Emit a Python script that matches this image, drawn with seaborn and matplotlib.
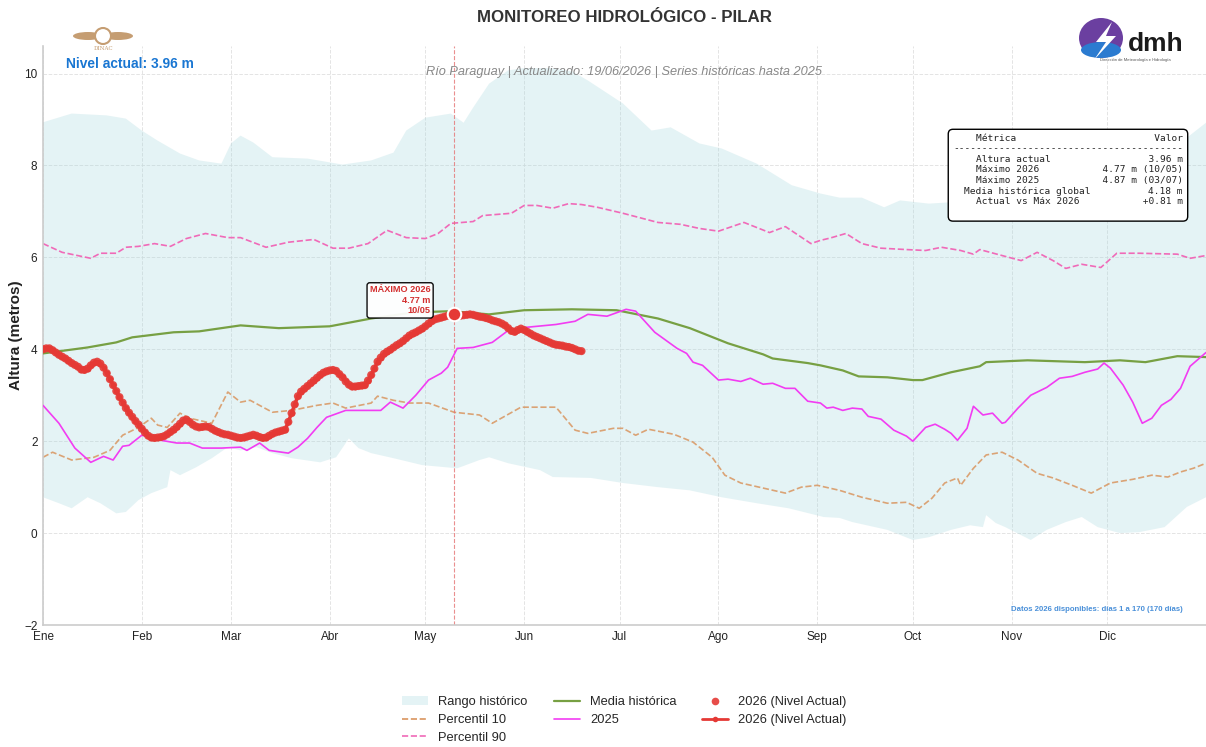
import numpy as np
import matplotlib
matplotlib.use("Agg")
import matplotlib.pyplot as plt
from matplotlib.patches import Patch, Ellipse, Polygon
from matplotlib.lines import Line2D
import seaborn as sns

# ---- datos (dia del año -> altura en metros) ----
month_days = [1, 32, 60, 91, 121, 152, 182, 213, 244, 274, 305, 335]
month_labels = ["Ene", "Feb", "Mar", "Abr", "May", "Jun", "Jul", "Ago", "Sep", "Oct", "Nov", "Dic"]

hist_max_day = [1, 10, 21, 27, 32, 37, 44, 50, 57, 60, 63, 67, 73, 84, 95, 104, 111, 115, 121, 129,
                133, 136, 141, 147, 152, 160, 167, 172, 183, 192, 198, 207, 214, 225, 236, 245, 251, 258,
                265, 270, 279, 286, 300, 315, 331, 346, 359, 366]
hist_max = [8.94, 9.13, 9.09, 9.02, 8.76, 8.54, 8.26, 8.11, 8.04, 8.48, 8.65, 8.50, 8.18, 8.15, 8.02, 8.11,
            8.28, 8.76, 9.04, 9.13, 8.93, 9.26, 9.78, 10.07, 10.12, 10.12, 10.05, 9.85, 9.35, 8.76, 8.83,
            8.48, 8.37, 8.04, 7.57, 7.39, 7.30, 7.30, 7.09, 7.24, 7.17, 7.20, 7.30, 7.50, 7.90, 8.30, 8.55, 8.93]

hist_min_day = [1, 6, 10, 15, 19, 24, 27, 31, 35, 40, 41, 44, 49, 54, 59, 63, 68, 73, 79, 88, 93, 97, 100,
                104, 111, 120, 131, 138, 141, 147, 157, 161, 173, 183, 194, 204, 214, 225, 235, 246, 251,
                255, 266, 274, 279, 286, 292, 296, 297, 300, 303, 311, 316, 322, 327, 332, 339, 345, 353, 360, 366]
hist_min = [0.78, 0.65, 0.54, 0.78, 0.65, 0.43, 0.46, 0.72, 0.87, 1.00, 1.37, 1.26, 1.43, 1.63, 1.87, 1.80,
            1.87, 1.74, 1.63, 1.54, 1.65, 2.06, 1.85, 1.74, 1.63, 1.48, 1.41, 1.59, 1.65, 1.52, 1.37, 1.22,
            1.20, 1.09, 1.00, 0.93, 0.78, 0.65, 0.54, 0.35, 0.33, 0.24, 0.07, -0.15, -0.09, 0.07, 0.17, 0.13,
            0.39, 0.22, 0.13, -0.15, 0.07, 0.24, 0.35, 0.13, 0.00, 0.02, 0.13, 0.57, 0.78]

p90_day = [1, 7, 16, 19, 24, 27, 31, 36, 41, 46, 52, 59, 63, 71, 78, 86, 92, 97, 103, 109, 115, 121, 125,
           129, 136, 139, 148, 152, 156, 161, 166, 170, 175, 183, 194, 201, 207, 213, 221, 229, 234, 242,
           245, 248, 253, 258, 264, 272, 278, 283, 289, 293, 295, 302, 308, 313, 318, 322, 327, 333, 338,
           345, 357, 361, 366]
p90 = [6.30, 6.11, 5.98, 6.09, 6.09, 6.22, 6.24, 6.30, 6.24, 6.41, 6.52, 6.43, 6.43, 6.22, 6.33, 6.39, 6.20,
       6.20, 6.30, 6.59, 6.43, 6.41, 6.52, 6.74, 6.78, 6.91, 6.96, 7.13, 7.13, 7.07, 7.17, 7.15, 7.09, 6.96,
       6.76, 6.72, 6.63, 6.57, 6.76, 6.54, 6.67, 6.30, 6.37, 6.42, 6.52, 6.30, 6.20, 6.17, 6.15, 6.22, 6.15,
       6.07, 6.17, 6.04, 5.93, 6.11, 5.93, 5.76, 5.85, 5.78, 6.09, 6.09, 6.07, 5.98, 6.04]

p10_day = [1, 4, 10, 17, 22, 26, 31, 35, 37, 40, 44, 47, 54, 59, 63, 66, 73, 79, 87, 92, 96, 104, 106, 111,
           116, 122, 130, 138, 142, 151, 162, 168, 172, 180, 183, 187, 191, 199, 205, 211, 215, 220, 234,
           239, 244, 251, 258, 266, 272, 276, 280, 284, 288, 289, 293, 297, 302, 307, 313, 318, 324, 330,
           336, 343, 349, 354, 358, 362, 366]
p10 = [1.65, 1.76, 1.59, 1.65, 1.80, 2.13, 2.30, 2.50, 2.35, 2.30, 2.61, 2.50, 2.39, 3.07, 2.85, 2.89, 2.63,
       2.67, 2.78, 2.83, 2.72, 2.83, 2.98, 2.89, 2.83, 2.83, 2.63, 2.57, 2.39, 2.74, 2.74, 2.24, 2.17, 2.28,
       2.28, 2.13, 2.26, 2.15, 1.98, 1.65, 1.26, 1.09, 0.87, 1.00, 1.04, 0.93, 0.78, 0.65, 0.67, 0.54, 0.76,
       1.09, 1.20, 1.04, 1.41, 1.70, 1.76, 1.59, 1.30, 1.20, 1.04, 0.87, 1.09, 1.17, 1.26, 1.22, 1.33, 1.41, 1.52]

media_day = [1, 15, 24, 29, 42, 50, 63, 75, 91, 104, 117, 129, 141, 152, 167, 181, 194, 204, 216, 227, 230,
             241, 245, 252, 257, 266, 274, 277, 286, 295, 297, 310, 328, 339, 347, 357, 366]
media = [3.91, 4.04, 4.15, 4.26, 4.37, 4.39, 4.52, 4.46, 4.50, 4.67, 4.80, 4.83, 4.76, 4.85, 4.87, 4.85,
         4.67, 4.46, 4.13, 3.89, 3.80, 3.70, 3.65, 3.54, 3.41, 3.39, 3.33, 3.33, 3.50, 3.63, 3.72, 3.76,
         3.72, 3.76, 3.72, 3.85, 3.83]

y2025_day = [1, 6, 11, 16, 20, 23, 26, 28, 32, 38, 43, 47, 51, 57, 63, 65, 69, 72, 78, 81, 84, 87, 90, 96,
             100, 107, 110, 114, 118, 122, 126, 128, 131, 136, 142, 147, 153, 162, 168, 172, 178, 184, 187,
             193, 200, 203, 205, 208, 213, 216, 220, 223, 227, 230, 234, 237, 241, 245, 247, 249, 252, 255,
             258, 260, 264, 268, 272, 274, 278, 281, 284, 286, 288, 291, 293, 296, 299, 302, 303, 307, 311,
             316, 320, 324, 328, 332, 334, 336, 340, 343, 346, 349, 352, 355, 358, 361, 366]
y2025 = [2.78, 2.39, 1.85, 1.54, 1.67, 1.59, 1.89, 1.91, 2.13, 2.02, 1.96, 1.96, 1.85, 1.85, 1.87, 1.80,
         1.96, 1.80, 1.74, 1.87, 2.06, 2.30, 2.52, 2.67, 2.67, 2.67, 2.85, 2.72, 3.00, 3.33, 3.48, 3.61,
         4.02, 4.04, 4.15, 4.41, 4.48, 4.54, 4.61, 4.76, 4.72, 4.87, 4.83, 4.37, 4.02, 3.91, 3.72, 3.65,
         3.33, 3.35, 3.30, 3.37, 3.24, 3.26, 3.15, 3.15, 2.87, 2.83, 2.72, 2.74, 2.67, 2.72, 2.70, 2.54,
         2.48, 2.24, 2.11, 2.00, 2.30, 2.37, 2.26, 2.17, 2.02, 2.28, 2.76, 2.57, 2.61, 2.39, 2.41, 2.72,
         3.00, 3.17, 3.37, 3.41, 3.50, 3.57, 3.70, 3.59, 3.22, 2.85, 2.39, 2.50, 2.78, 2.91, 3.15, 3.63, 3.93]

nivel_2026 = [4.00, 4.02, 4.02, 3.98, 3.93, 3.88, 3.84, 3.80, 3.75, 3.70,
              3.66, 3.62, 3.56, 3.55, 3.58, 3.65, 3.71, 3.73, 3.69, 3.60,
              3.48, 3.35, 3.22, 3.09, 2.96, 2.84, 2.72, 2.62, 2.53, 2.44,
              2.36, 2.27, 2.19, 2.12, 2.08, 2.07, 2.08, 2.09, 2.11, 2.15,
              2.20, 2.25, 2.31, 2.38, 2.45, 2.47, 2.42, 2.36, 2.32, 2.30,
              2.31, 2.32, 2.31, 2.27, 2.23, 2.20, 2.17, 2.15, 2.14, 2.12,
              2.10, 2.08, 2.07, 2.08, 2.10, 2.12, 2.14, 2.12, 2.09, 2.07,
              2.08, 2.12, 2.16, 2.19, 2.21, 2.23, 2.25, 2.42, 2.61, 2.80,
              2.98, 3.08, 3.14, 3.20, 3.26, 3.32, 3.38, 3.44, 3.49, 3.52,
              3.54, 3.55, 3.53, 3.46, 3.39, 3.30, 3.23, 3.19, 3.19, 3.20,
              3.21, 3.22, 3.32, 3.44, 3.58, 3.73, 3.82, 3.90, 3.95, 3.99,
              4.04, 4.09, 4.13, 4.18, 4.24, 4.30, 4.34, 4.37, 4.41, 4.45,
              4.50, 4.56, 4.61, 4.65, 4.67, 4.69, 4.71, 4.73, 4.75, 4.77,
              4.75, 4.73, 4.74, 4.75, 4.76, 4.75, 4.73, 4.71, 4.70, 4.68,
              4.66, 4.63, 4.61, 4.59, 4.56, 4.52, 4.46, 4.40, 4.38, 4.42,
              4.45, 4.42, 4.38, 4.34, 4.30, 4.27, 4.24, 4.21, 4.18, 4.15,
              4.12, 4.10, 4.09, 4.08, 4.06, 4.05, 4.03, 4.00, 3.97, 3.96]
days_2026 = list(range(1, len(nivel_2026) + 1))

metricas = ["Altura actual", "Máximo 2026", "Máximo 2025", "Media histórica global", "Actual vs Máx 2026"]
valores = ["3.96 m", "4.77 m (10/05)", "4.87 m (03/07)", "4.18 m", "+0.81 m"]

# ---- estilo ----
sns.set_theme(style="whitegrid")
plt.rcParams["font.family"] = ["Liberation Sans", "DejaVu Sans"]

W, H = 1206, 747
fig = plt.figure(figsize=(W / 100, H / 100), dpi=100)
ax = fig.add_axes([43 / W, 1 - 625 / H, 1 - 43 / W, (625 - 46) / H])

# rango historico
ax.fill(np.r_[hist_max_day, hist_min_day[::-1]], np.r_[hist_max, hist_min[::-1]],
        color="#a8d8de", alpha=0.3, lw=0, zorder=1)

sns.lineplot(x=p10_day, y=p10, ax=ax, color="#d9955f", linestyle="--", linewidth=1.2, alpha=0.85, zorder=2)
sns.lineplot(x=p90_day, y=p90, ax=ax, color="#f06ab8", linestyle="--", linewidth=1.2, zorder=2)
sns.lineplot(x=media_day, y=media, ax=ax, color="#77a043", linewidth=1.6, zorder=3)
sns.lineplot(x=y2025_day, y=y2025, ax=ax, color="#f23cf2", linewidth=1.2, zorder=3)

rojo = "#e53935"
sns.lineplot(x=days_2026, y=nivel_2026, ax=ax, color=rojo, linewidth=2.5, marker="o",
             markersize=4, markeredgewidth=0, zorder=4)
sns.scatterplot(x=days_2026, y=nivel_2026, ax=ax, color=rojo, s=34, alpha=0.9,
                edgecolor="none", zorder=5)

# maximo 2026
imax = int(np.argmax(nivel_2026))
dmax, vmax = days_2026[imax], nivel_2026[imax]
ax.axvline(dmax, color="#e57373", linestyle="--", linewidth=0.8, alpha=0.8, zorder=2)
ax.scatter([dmax], [vmax], s=95, color=rojo, edgecolor="white", linewidth=1.5, zorder=7)
ax.annotate(f"MÁXIMO 2026\n{vmax:.2f} m\n10/05", xy=(dmax, vmax), xytext=(-17, -1),
            textcoords="offset points", ha="right", va="bottom", fontsize=6.6,
            fontweight="bold", color="#d32f2f", zorder=8,
            bbox=dict(boxstyle="round,pad=0.3", fc="white", ec="black", lw=1, alpha=0.95))

# ejes
ax.set_xlim(1, 366)
ax.set_ylim(-2, 10.6)
ax.set_xticks(month_days, month_labels)
ax.set_yticks([-2, 0, 2, 4, 6, 8, 10])
ax.tick_params(labelsize=8.5, length=0, pad=4, colors="#222222")
ax.grid(True, linestyle="--", linewidth=0.7, color="#dddddd", alpha=0.8)
ax.set_xlabel("")
ax.set_ylabel("Altura (metros)", fontsize=11, fontweight="bold", labelpad=1, color="#222222")
for s in ["top", "right"]:
    ax.spines[s].set_visible(False)
for s in ["left", "bottom"]:
    ax.spines[s].set_color("#cccccc")
    ax.spines[s].set_linewidth(1.2)

# textos
fig.text(624 / W, 1 - 18 / H, "MONITOREO HIDROLÓGICO - PILAR", ha="center", va="center",
         fontsize=12.2, fontweight="bold", color="#333333")
ax.text(0.5, 0.955, "Río Paraguay | Actualizado: 19/06/2026 | Series históricas hasta 2025",
        transform=ax.transAxes, ha="center", va="center", fontsize=9.2, style="italic", color="#888888")
ax.text(0.02, 0.969, f"Nivel actual: {nivel_2026[-1]:.2f} m", transform=ax.transAxes,
        ha="left", va="center", fontsize=9.9, fontweight="bold", color="#1976d2")
ax.text(0.98, 0.026, f"Datos 2026 disponibles: días 1 a {len(nivel_2026)} ({len(nivel_2026)} días)",
        transform=ax.transAxes, ha="right", va="center", fontsize=5.6, fontweight="bold", color="#4a90d9")

lineas = [f"{'Métrica':<20}{'Valor':>16}", "-" * 40]
lineas += [f"{m:<20}{v:>16}" for m, v in zip(metricas, valores)]
ax.text(0.9802, 0.848, "\n".join(lineas) + "\n ", transform=ax.transAxes, ha="right", va="top",
        family="DejaVu Sans Mono", fontsize=6.8, color="#222222", zorder=9,
        bbox=dict(boxstyle="round,pad=0.5", fc="white", ec="black", lw=1))

# leyenda
handles = [Patch(facecolor="#a8d8de", alpha=0.3, edgecolor="none"),
           Line2D([], [], color="#d9955f", ls="--", lw=1.2),
           Line2D([], [], color="#f06ab8", ls="--", lw=1.2),
           Line2D([], [], color="#77a043", lw=1.6),
           Line2D([], [], color="#f23cf2", lw=1.2),
           Line2D([], [], color=rojo, marker="o", ls="none", ms=5.5, alpha=0.9, markeredgewidth=0),
           Line2D([], [], color=rojo, lw=2, marker="o", ms=4, markeredgewidth=0)]
labels = ["Rango histórico", "Percentil 10", "Percentil 90", "Media histórica", "2025",
          "2026 (Nivel Actual)", "2026 (Nivel Actual)"]
ax.legend(handles, labels, loc="upper center", bbox_to_anchor=(0.5, -0.103), ncol=3,
          frameon=False, fontsize=9.3, columnspacing=2.0, labelspacing=0.45)

# logos aproximados
def fx(px):
    return px / W

def fy(py):
    return 1 - py / H

oro = "#c59d72"
for cx, w in [(88, 30), (118, 30)]:
    fig.add_artist(Ellipse((fx(cx), fy(36)), fx(w), 8 / H, transform=fig.transFigure, color=oro, lw=0))
fig.add_artist(Ellipse((fx(103), fy(36)), fx(16), 16 / H, transform=fig.transFigure,
                       fc="white", ec=oro, lw=1.5))
fig.text(fx(103), fy(49), "DINAC", ha="center", va="center", fontsize=4, color=oro, family="DejaVu Serif")

fig.add_artist(Ellipse((fx(1101), fy(38)), fx(44), 40 / H, transform=fig.transFigure, color="#6b3fa0", lw=0))
fig.add_artist(Ellipse((fx(1101), fy(50)), fx(40), 16 / H, transform=fig.transFigure, color="#2b7bd0", lw=0))
fig.add_artist(Polygon([(fx(1112), fy(22)), (fx(1096), fy(42)), (fx(1106), fy(42)), (fx(1094), fy(60)),
                        (fx(1116), fy(36)), (fx(1106), fy(36))], closed=True,
                       transform=fig.transFigure, color="white", lw=0))
fig.text(fx(1128), fy(44), "dmh", ha="left", va="center", fontsize=19, fontweight="bold", color="#1a1a1a")
fig.text(fx(1100), fy(60), "Dirección de Meteorología e Hidrología", ha="left", va="center",
         fontsize=3, color="#555555")

fig.savefig("out.png", dpi=100)
